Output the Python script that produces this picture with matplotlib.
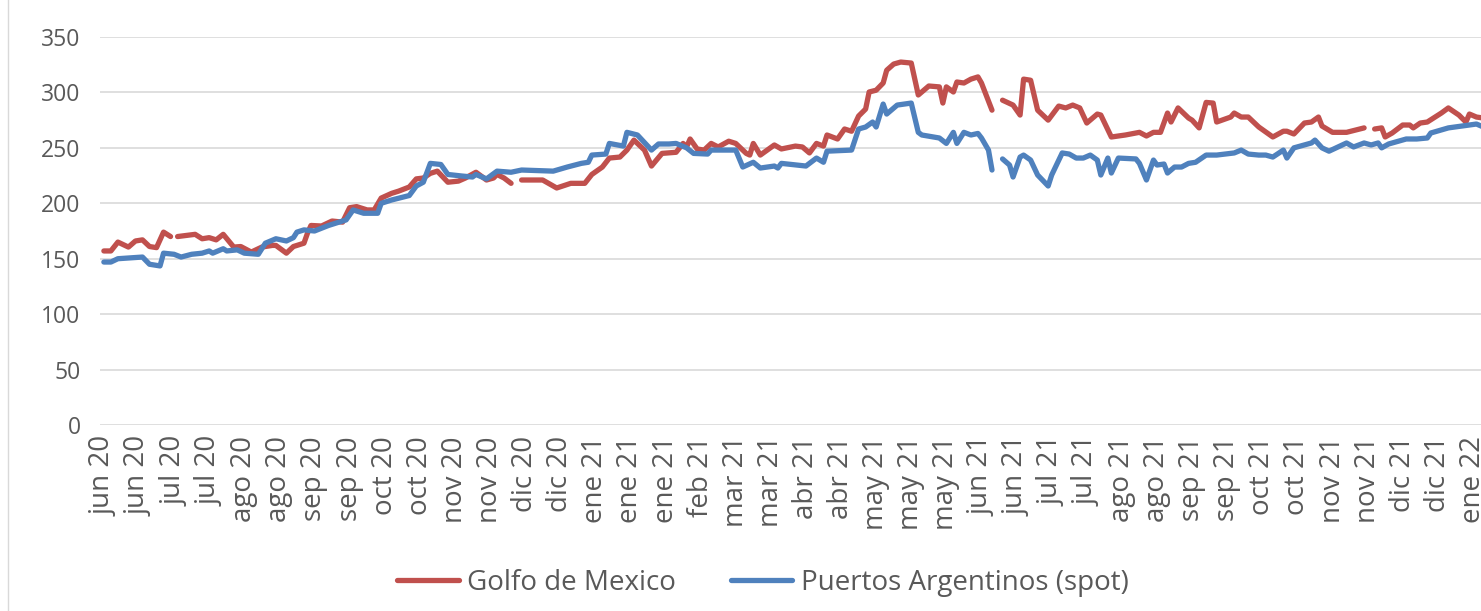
import numpy as np
import matplotlib.pyplot as plt

# -----------------------------
# Data
# observation number (trading day) and price, NaN = missing
# -----------------------------
golfo_idx = [0, 2, 4, 7, 9, 11, 13, 15, 17, 19, 20, 21, 26, 28, 30, 32, 34, 37, 39, 42,
             45, 48, 49, 52, 54, 57, 58, 59, 62, 65, 68, 70, 72, 75, 77, 79, 82, 84, 87, 89,
             91, 93, 95, 98, 101, 103, 106, 109, 111, 112, 114, 116, 117, 119, 125, 129, 133, 137, 139, 142,
             144, 147, 149, 151, 154, 156, 159, 163, 165, 166, 167, 169, 171, 173, 175, 178, 180, 183, 184, 185,
             187, 191, 193, 197, 199, 201, 203, 205, 206, 209, 211, 213, 215, 217, 218, 220, 222, 223, 225, 227,
             230, 232, 235, 238, 239, 240, 242, 243, 245, 247, 249, 250, 253, 254, 256, 259, 261, 262, 264, 266,
             269, 272, 274, 276, 278, 280, 283, 284, 287, 291, 295, 297, 299, 301, 303, 304, 306, 309, 310, 312,
             314, 316, 317, 321, 322, 324, 326, 329, 333, 336, 337, 339, 342, 344, 346, 347, 350, 354, 359, 360,
             362, 364, 365, 367, 370, 372, 373, 375, 377, 381, 383, 386, 388, 389, 391, 395]
golfo_val = [157, 157, 165, 160.5, 166, 167, 161, 160, 174, 170, np.nan, 170, 172, 168, 169, 167, 172, 160.5, 161, 156,
             160.5, 162, 162, 155, 161, 164, 173, 180, 179.5, 184, 183, 196, 197, 194, 194, 204.7, 209, 211, 214.7, 222,
             222.8, 227, 229, 219, 220, 222.8, 228, 221, 222.8, 226, 222.8, 218, np.nan, 221, 221, 213.8, 218, 218, 226, 232.7,
             240.8, 241.7, 248, 257, 248, 233.6, 245, 246, 254, 250.8, 258, 249, 248, 254, 250.8, 256, 254, 245, 243.5, 254,
             243.5, 252.6, 249, 251.6, 250.8, 245.4, 254, 251.6, 261.6, 258, 267, 265, 278.7, 285, 300.4, 302, 308.5, 320, 325.6, 327.4,
             326.5, 297.7, 305.8, 305, 290.4, 305, 300.4, 309.4, 308.5, 312, 314, 308.5, 284, np.nan, 293, 288.6, 279.6, 312, 311, 284,
             275, 287.7, 286, 288.6, 286, 272.4, 280.5, 279.6, 259.8, 261.6, 264, 260.7, 264, 264, 281.4, 273.3, 286, 276.9, 275, 268,
             291, 290.4, 273.3, 277.8, 281.4, 277.8, 277.8, 268.8, 259.8, 265, 265, 262.5, 272.4, 273.3, 277.8, 269.7, 264, 264, 268, np.nan,
             267, 268, 259.8, 263.4, 270.6, 270.6, 268, 272.4, 273.3, 281.4, 286, 279.6, 273.3, 280.5, 277.8, 276]

puertos_idx = [0, 2, 4, 11, 13, 16, 17, 20, 22, 25, 28, 30, 31, 34, 35, 38, 40, 44, 46, 49,
               52, 54, 55, 57, 60, 64, 67, 69, 71, 74, 78, 79, 82, 87, 89, 91, 93, 96, 98, 102,
               105, 106, 109, 112, 116, 119, 128, 132, 136, 138, 139, 143, 144, 148, 149, 152, 156, 158, 161, 163,
               166, 168, 172, 173, 180, 182, 185, 187, 191, 192, 193, 200, 203, 205, 206, 213, 215, 217, 219, 220,
               222, 223, 226, 230, 232, 233, 238, 240, 242, 243, 245, 247, 249, 250, 252, 253, 254, 256, 258, 259,
               261, 262, 264, 266, 269, 270, 273, 275, 277, 279, 281, 283, 284, 286, 287, 289, 294, 295, 297, 299,
               300, 302, 303, 305, 307, 309, 311, 314, 317, 322, 324, 326, 329, 331, 333, 336, 337, 339, 342, 344,
               345, 347, 349, 354, 356, 359, 361, 363, 364, 366, 371, 374, 377, 378, 383, 387, 391, 393]
puertos_val = [147, 147, 150, 151.5, 145, 143.5, 155, 154, 151.5, 154, 155, 157, 155, 159, 157, 158, 155, 154, 164, 168,
               166, 169, 174, 176, 175, 180, 183, 185, 194, 191, 191, 200, 203, 207, 215.6, 219, 236, 235, 226, 224.6,
               223.7, 226, 222, 229, 228, 230, 229, 232.7, 236, 237, 243.5, 244.4, 254, 251.6, 264, 261.6, 248, 253.5, 253.5, 254,
               250, 245, 244.4, 248, 248, 232.7, 237, 231.8, 233.6, 231.8, 236, 233.6, 240.8, 237, 247, 248, 267, 268.8, 273.3, 268.8,
               289.5, 280.5, 288.6, 290.4, 264, 261.6, 258.9, 254, 264, 254, 264, 261.6, 263, 258.9, 248, 230, np.nan, 240, 234.5, 223.7,
               241.7, 243.5, 239, 225.5, 215.6, 225.5, 245.4, 244.4, 240.8, 240.8, 243.5, 239, 225.5, 240.8, 227.3, 240.8, 240, 236, 221, 239,
               234.5, 235.4, 227.3, 232.7, 232.7, 236, 237, 243.5, 243.5, 245.4, 248, 244.4, 243.5, 243.5, 241.7, 248, 240.8, 250, 252.6, 254.4,
               257, 250, 247, 254.4, 250.8, 254.4, 252.6, 254.4, 250, 253.5, 258, 258, 258.9, 263.4, 268, 269.7, 271.5, 268.8]

# one label every 10 observations
tick_labels = ["jun 20", "jun 20", "jul 20", "jul 20", "ago 20", "ago 20", "sep 20", "sep 20",
               "oct 20", "oct 20", "nov 20", "nov 20", "dic 20", "dic 20", "ene 21", "ene 21",
               "ene 21", "feb 21", "mar 21", "mar 21", "abr 21", "abr 21", "may 21", "may 21",
               "may 21", "jun 21", "jun 21", "jul 21", "jul 21", "ago 21", "ago 21", "sep 21",
               "sep 21", "oct 21", "oct 21", "nov 21", "nov 21", "dic 21", "dic 21", "ene 22"]

# -----------------------------
# Plot
# -----------------------------
plt.rcParams["font.family"] = ["Open Sans", "DejaVu Sans"]
text_color = "#595959"

fig = plt.figure(figsize=(14.81, 6.11), dpi=100)
ax = fig.add_axes([100 / 1481, 186 / 611, 1381 / 1481, 388 / 611])

ax.plot(golfo_idx, golfo_val, color="#C0504D", lw=3.8, label="Golfo de Mexico",
        solid_capstyle="round", solid_joinstyle="round")
ax.plot(puertos_idx, puertos_val, color="#4F81BD", lw=3.8, label="Puertos Argentinos (spot)",
        solid_capstyle="round", solid_joinstyle="round")

ax.set_ylim(0, 350)
ax.set_xlim(-1.1, 392.3)
ax.set_yticks(np.arange(0, 351, 50))
ax.set_xticks(np.arange(len(tick_labels)) * 10)
ax.set_xticklabels(tick_labels, rotation=90)
ax.tick_params(axis="both", length=0, colors=text_color)
ax.tick_params(axis="y", pad=14, labelsize=16.5)
ax.tick_params(axis="x", pad=8, labelsize=20)
ax.grid(axis="y", color="#D9D9D9", lw=1.2)
ax.set_axisbelow(True)
for s in ax.spines.values():
    s.set_visible(False)

# thin frame line on the left edge of the chart area
fig.add_artist(plt.Line2D([8 / 1481, 8 / 1481], [0.0, 1.0], color="#D9D9D9", lw=1))

leg = fig.legend(loc="center", bbox_to_anchor=(763 / 1481, 28 / 611), ncol=2, frameon=False,
                 fontsize=20, handlelength=2.2, handletextpad=0.3, columnspacing=2.0)
for t in leg.get_texts():
    t.set_color(text_color)

fig.savefig("out.png", dpi=100)
